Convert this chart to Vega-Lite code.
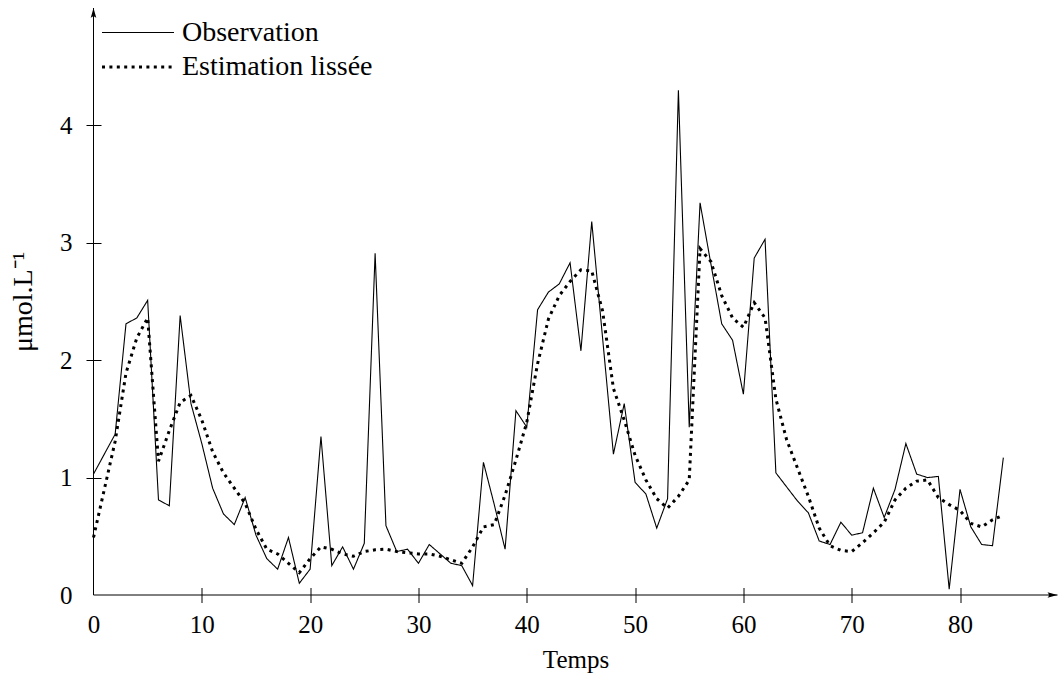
{
  "$schema": "https://vega.github.io/schema/vega-lite/v6.json",
  "width": 964,
  "height": 587,
  "autosize": {"type": "none"},
  "padding": {"left": 93.5, "top": 8, "right": 0.5, "bottom": 82},
  "background": "white",
  "config": {
    "view": {"stroke": null},
    "font": "Liberation Serif",
    "axis": {
      "domain": false,
      "grid": false,
      "ticks": true,
      "tickSize": 15,
      "offset": -7.5,
      "tickColor": "black",
      "tickWidth": 1,
      "labelFont": "Liberation Serif",
      "labelFontSize": 25,
      "labelColor": "black",
      "labelFlush": false,
      "format": "d",
      "titleFont": "Liberation Serif",
      "titleFontSize": 25,
      "titleFontWeight": "normal",
      "titleColor": "black",
      "tickOpacity": {"condition": {"test": "datum.value == 0", "value": 0}, "value": 1}
    },
    "legend": {
      "orient": "none",
      "legendX": 30.5,
      "legendY": 10.5,
      "padding": 0,
      "symbolType": "M-3,0L3,0",
      "symbolSize": 576,
      "symbolStrokeColor": "black",
      "labelFont": "Liberation Serif",
      "labelFontSize": 28,
      "labelColor": "black",
      "labelOffset": 30,
      "rowPadding": 6.4,
      "labelLimit": 400
    }
  },
  "layer": [
    {
      "data": {
        "values": [
          {"t": 0, "Observation": 1.03, "Estimation lissée": 0.49},
          {"t": 1, "Observation": 1.20, "Estimation lissée": 0.90},
          {"t": 2, "Observation": 1.37, "Estimation lissée": 1.31},
          {"t": 3, "Observation": 2.31, "Estimation lissée": 1.89},
          {"t": 4, "Observation": 2.36, "Estimation lissée": 2.19},
          {"t": 5, "Observation": 2.51, "Estimation lissée": 2.36},
          {"t": 6, "Observation": 0.81, "Estimation lissée": 1.14},
          {"t": 7, "Observation": 0.76, "Estimation lissée": 1.40},
          {"t": 8, "Observation": 2.38, "Estimation lissée": 1.64},
          {"t": 9, "Observation": 1.63, "Estimation lissée": 1.70},
          {"t": 10, "Observation": 1.29, "Estimation lissée": 1.49},
          {"t": 11, "Observation": 0.91, "Estimation lissée": 1.22},
          {"t": 12, "Observation": 0.69, "Estimation lissée": 1.04},
          {"t": 13, "Observation": 0.60, "Estimation lissée": 0.91},
          {"t": 14, "Observation": 0.83, "Estimation lissée": 0.78},
          {"t": 15, "Observation": 0.51, "Estimation lissée": 0.56},
          {"t": 16, "Observation": 0.31, "Estimation lissée": 0.39},
          {"t": 17, "Observation": 0.22, "Estimation lissée": 0.35},
          {"t": 18, "Observation": 0.49, "Estimation lissée": 0.27},
          {"t": 19, "Observation": 0.10, "Estimation lissée": 0.19},
          {"t": 20, "Observation": 0.22, "Estimation lissée": 0.31},
          {"t": 21, "Observation": 1.35, "Estimation lissée": 0.41},
          {"t": 22, "Observation": 0.25, "Estimation lissée": 0.39},
          {"t": 23, "Observation": 0.41, "Estimation lissée": 0.35},
          {"t": 24, "Observation": 0.22, "Estimation lissée": 0.33},
          {"t": 25, "Observation": 0.44, "Estimation lissée": 0.37},
          {"t": 26, "Observation": 2.91, "Estimation lissée": 0.385},
          {"t": 27, "Observation": 0.59, "Estimation lissée": 0.39},
          {"t": 28, "Observation": 0.37, "Estimation lissée": 0.37},
          {"t": 29, "Observation": 0.39, "Estimation lissée": 0.36},
          {"t": 30, "Observation": 0.27, "Estimation lissée": 0.35},
          {"t": 31, "Observation": 0.43, "Estimation lissée": 0.35},
          {"t": 32, "Observation": 0.35, "Estimation lissée": 0.33},
          {"t": 33, "Observation": 0.27, "Estimation lissée": 0.30},
          {"t": 34, "Observation": 0.25, "Estimation lissée": 0.27},
          {"t": 35, "Observation": 0.08, "Estimation lissée": 0.41},
          {"t": 36, "Observation": 1.13, "Estimation lissée": 0.58},
          {"t": 37, "Observation": 0.77, "Estimation lissée": 0.60},
          {"t": 38, "Observation": 0.39, "Estimation lissée": 0.85},
          {"t": 39, "Observation": 1.57, "Estimation lissée": 1.15},
          {"t": 40, "Observation": 1.43, "Estimation lissée": 1.47},
          {"t": 41, "Observation": 2.43, "Estimation lissée": 1.97},
          {"t": 42, "Observation": 2.58, "Estimation lissée": 2.35},
          {"t": 43, "Observation": 2.65, "Estimation lissée": 2.55},
          {"t": 44, "Observation": 2.83, "Estimation lissée": 2.67},
          {"t": 45, "Observation": 2.08, "Estimation lissée": 2.77},
          {"t": 46, "Observation": 3.18, "Estimation lissée": 2.76},
          {"t": 47, "Observation": 2.19, "Estimation lissée": 2.42},
          {"t": 48, "Observation": 1.20, "Estimation lissée": 1.76},
          {"t": 49, "Observation": 1.63, "Estimation lissée": 1.49},
          {"t": 50, "Observation": 0.96, "Estimation lissée": 1.19},
          {"t": 51, "Observation": 0.86, "Estimation lissée": 0.98},
          {"t": 52, "Observation": 0.57, "Estimation lissée": 0.82},
          {"t": 53, "Observation": 0.82, "Estimation lissée": 0.74},
          {"t": 54, "Observation": 4.30, "Estimation lissée": 0.84},
          {"t": 55, "Observation": 1.43, "Estimation lissée": 0.98},
          {"t": 56, "Observation": 3.34, "Estimation lissée": 2.95},
          {"t": 57, "Observation": 2.82, "Estimation lissée": 2.84},
          {"t": 58, "Observation": 2.31, "Estimation lissée": 2.55},
          {"t": 59, "Observation": 2.17, "Estimation lissée": 2.36},
          {"t": 60, "Observation": 1.71, "Estimation lissée": 2.28},
          {"t": 61, "Observation": 2.87, "Estimation lissée": 2.49},
          {"t": 62, "Observation": 3.03, "Estimation lissée": 2.36},
          {"t": 63, "Observation": 1.04, "Estimation lissée": 1.67},
          {"t": 64, "Observation": 0.92, "Estimation lissée": 1.32},
          {"t": 65, "Observation": 0.80, "Estimation lissée": 1.08},
          {"t": 66, "Observation": 0.70, "Estimation lissée": 0.84},
          {"t": 67, "Observation": 0.46, "Estimation lissée": 0.57},
          {"t": 68, "Observation": 0.43, "Estimation lissée": 0.42},
          {"t": 69, "Observation": 0.62, "Estimation lissée": 0.38},
          {"t": 70, "Observation": 0.51, "Estimation lissée": 0.37},
          {"t": 71, "Observation": 0.53, "Estimation lissée": 0.445},
          {"t": 72, "Observation": 0.91, "Estimation lissée": 0.53},
          {"t": 73, "Observation": 0.66, "Estimation lissée": 0.62},
          {"t": 74, "Observation": 0.90, "Estimation lissée": 0.81},
          {"t": 75, "Observation": 1.29, "Estimation lissée": 0.91},
          {"t": 76, "Observation": 1.03, "Estimation lissée": 0.97},
          {"t": 77, "Observation": 1.00, "Estimation lissée": 0.98},
          {"t": 78, "Observation": 1.01, "Estimation lissée": 0.83},
          {"t": 79, "Observation": 0.05, "Estimation lissée": 0.77},
          {"t": 80, "Observation": 0.90, "Estimation lissée": 0.72},
          {"t": 81, "Observation": 0.58, "Estimation lissée": 0.61},
          {"t": 82, "Observation": 0.43, "Estimation lissée": 0.58},
          {"t": 83, "Observation": 0.42, "Estimation lissée": 0.64},
          {"t": 84, "Observation": 1.17, "Estimation lissée": 0.68}
        ]
      },
      "transform": [{"fold": ["Observation", "Estimation lissée"], "as": ["serie", "v"]}],
      "mark": {"type": "line", "color": "black"},
      "encoding": {
        "x": {
          "field": "t",
          "type": "quantitative",
          "scale": {"domain": [0, 89], "nice": false, "zero": false},
          "axis": {"values": [0, 10, 20, 30, 40, 50, 60, 70, 80], "labelPadding": 10, "title": "Temps", "titlePadding": 10}
        },
        "y": {
          "field": "v",
          "type": "quantitative",
          "scale": {"domain": [0, 5], "nice": false},
          "axis": {"values": [0, 1, 2, 3, 4], "labelPadding": 14, "title": "μmol.L⁻¹", "titlePadding": 22, "titleFontSize": 28}
        },
        "strokeDash": {
          "field": "serie",
          "type": "nominal",
          "scale": {"domain": ["Observation", "Estimation lissée"], "range": [[1, 0], [3, 4.4]]},
          "legend": {"title": null}
        },
        "strokeWidth": {
          "field": "serie",
          "type": "nominal",
          "scale": {"domain": ["Observation", "Estimation lissée"], "range": [1.1, 3]},
          "legend": {"title": null}
        }
      }
    },
    {
      "data": {"values": [{}]},
      "mark": {"type": "rule", "color": "black", "strokeWidth": 1},
      "encoding": {"x": {"datum": 0}, "x2": {"datum": 89}, "y": {"datum": 0}}
    },
    {
      "data": {"values": [{}]},
      "mark": {"type": "rule", "color": "black", "strokeWidth": 1},
      "encoding": {"x": {"datum": 0}, "y": {"datum": 0}, "y2": {"datum": 5}}
    },
    {
      "data": {"values": [{}]},
      "mark": {"type": "point", "shape": "M0,0L-0.45,1.6Q0,1.15,0.45,1.6Z", "filled": true, "color": "black", "opacity": 1, "size": 156, "strokeWidth": 0},
      "encoding": {"x": {"datum": 0}, "y": {"datum": 5}}
    },
    {
      "data": {"values": [{}]},
      "mark": {"type": "point", "shape": "M0,0L-1.6,-0.45Q-1.15,0,-1.6,0.45Z", "filled": true, "color": "black", "opacity": 1, "size": 156, "strokeWidth": 0},
      "encoding": {"x": {"datum": 89}, "y": {"datum": 0}}
    }
  ]
}
